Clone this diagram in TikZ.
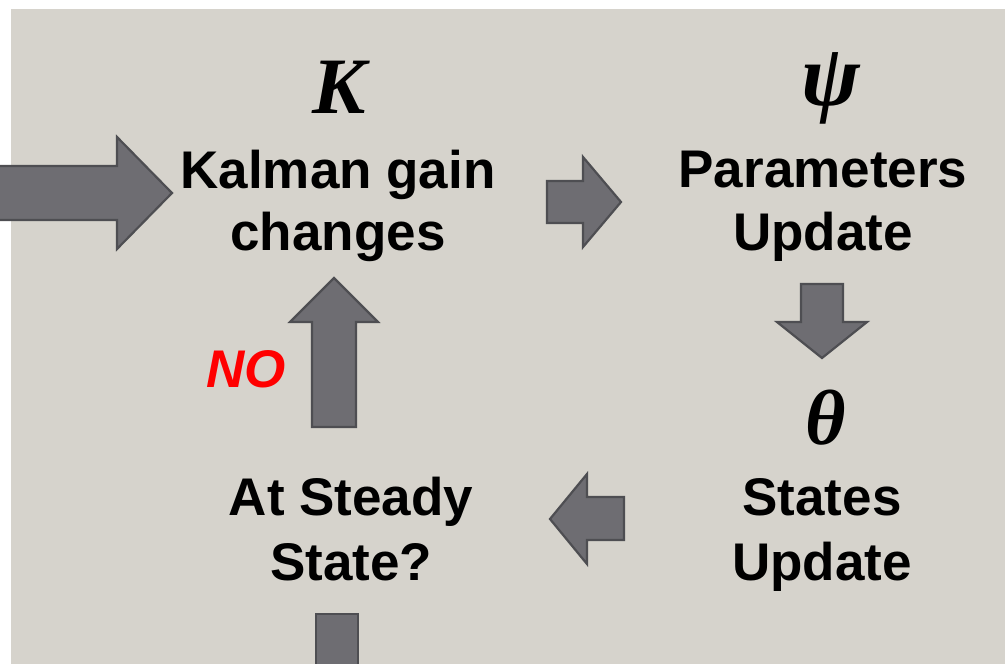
\documentclass[tikz,border=0pt]{standalone}
\usepackage{fontspec}
\setmainfont{Liberation Sans}
\newfontfamily\symfont{Liberation Serif}
\definecolor{bgc}{HTML}{D6D3CC}
\definecolor{arrowfill}{HTML}{6E6D72}
\definecolor{arrowline}{HTML}{4E4E52}
\definecolor{nored}{HTML}{FF0000}
\tikzset{
  blk/.style={fill=arrowfill, draw=arrowline, line width=2.2pt, line join=miter},
  lbl/.style={font=\fontsize{53}{63}\selectfont\bfseries, inner sep=0pt, anchor=base},
  sym/.style={font=\symfont\fontsize{78}{80}\selectfont\bfseries\itshape, inner sep=0pt, anchor=base}
}
\begin{document}
\begin{tikzpicture}[x=1pt,y=-1pt]
\useasboundingbox (0,0) rectangle (1005,664);
\clip (0,0) rectangle (1005,664);
\fill[bgc] (11,9) rectangle (1010,670);
% block arrows
\draw[blk] (-5,166) -- (117,166) -- (117,137) -- (172,193) -- (117,249) -- (117,220) -- (-5,220) -- cycle;
\draw[blk] (547,181) -- (583,181) -- (583,157) -- (621,202) -- (583,247) -- (583,223) -- (547,223) -- cycle;
\draw[blk] (801,284) -- (843,284) -- (843,322) -- (867,322) -- (822,358) -- (777,322) -- (801,322) -- cycle;
\draw[blk] (624,497) -- (587,497) -- (587,474) -- (550,519) -- (587,564) -- (587,540) -- (624,540) -- cycle;
\draw[blk] (312,427) -- (312,322) -- (290,322) -- (334,278) -- (378,322) -- (356,322) -- (356,427) -- cycle;
\draw[blk] (316,680) -- (316,614) -- (358,614) -- (358,680);
% symbols
\node[sym, font=\symfont\fontsize{80}{80}\selectfont\bfseries\itshape] (symK) at (339,113) {K};
\node[sym, font=\symfont\fontsize{88}{90}\selectfont\bfseries\itshape] (symPsi) at (831,105) {ψ};
\node[sym] (symTheta) at (826,444) {θ};
% labels
\node[lbl] (kal1) at (338,188) {Kalman gain};
\node[lbl] (kal2) at (338,250) {changes};
\node[lbl] (par1) at (823,187) {Parameters};
\node[lbl] (par2) at (823,250) {Update};
\node[lbl] (sta1) at (822,515) {States};
\node[lbl] (sta2) at (822,580) {Update};
\node[lbl] (ss1) at (351,515) {At Steady};
\node[lbl] (ss2) at (351,580) {State?};
\node[lbl, font=\fontsize{53}{63}\selectfont\bfseries\itshape, text=nored] (no) at (246,387) {NO};
\end{tikzpicture}
\end{document}
